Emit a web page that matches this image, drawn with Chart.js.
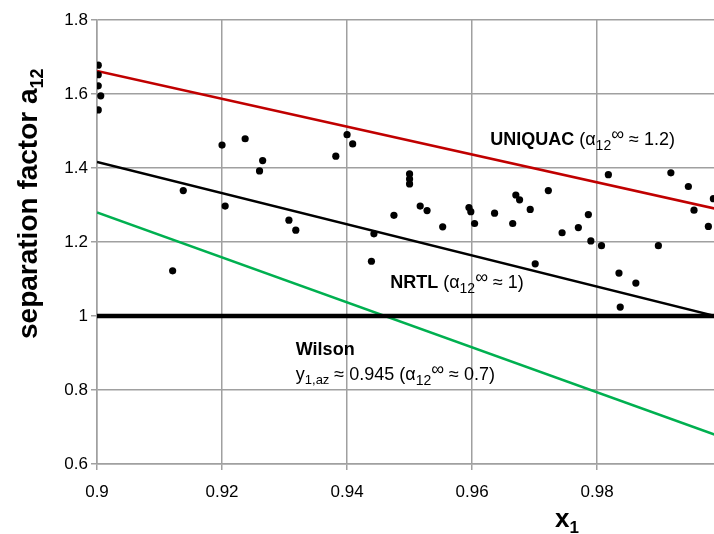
<!DOCTYPE html>
<html>
<head>
<meta charset="utf-8">
<script src="https://cdn.jsdelivr.net/npm/chart.js@4"></script>
<style>
  html, body { margin: 0; padding: 0; background: #fff; overflow: hidden; }
  canvas { display: block; }
</style>
</head>
<body>
<canvas id="sepChart" width="718" height="534"></canvas>
<script>
// measured separation factors (x1, a12)
const xObs = [0.9002, 0.9002, 0.9002, 0.9006, 0.9002, 0.9121, 0.9138, 0.9200, 0.9205, 0.9237,
              0.9260, 0.9265, 0.9307, 0.9318, 0.9382, 0.9400, 0.9409, 0.9439, 0.9443, 0.9475,
              0.9500, 0.9500, 0.9500, 0.9517, 0.9528, 0.9553, 0.9595, 0.9598, 0.9604, 0.9636,
              0.9665, 0.9670, 0.9676, 0.9693, 0.9701, 0.9722, 0.9744, 0.9770, 0.9786, 0.9790,
              0.9807, 0.9818, 0.9835, 0.9837, 0.9862, 0.9898, 0.9918, 0.9946, 0.9955, 0.9978,
              0.9986];
const yObs = [1.678, 1.652, 1.622, 1.595, 1.557, 1.122, 1.339, 1.462, 1.297, 1.479,
              1.392, 1.420, 1.259, 1.232, 1.432, 1.490, 1.465, 1.148, 1.222, 1.272,
              1.384, 1.370, 1.357, 1.297, 1.285, 1.241, 1.293, 1.282, 1.250, 1.278,
              1.250, 1.327, 1.314, 1.288, 1.141, 1.339, 1.225, 1.239, 1.274, 1.203,
              1.190, 1.382, 1.116, 1.024, 1.089, 1.190, 1.387, 1.350, 1.286, 1.242,
              1.317];

// model lines (end points at x1 = 0.9 and 1.0)
const xModel = [0.9, 1.0];
const yUniquac = [1.662, 1.286];
const yNrtl = [1.416, 0.995];
const yWilson = [1.280, 0.672];
const yAzeo = [1.0, 1.0];

// axis ticks
const xTickMin = 0.9, xTickMax = 0.9987, xStep = 0.02;
const yTickMin = 0.6, yTickMax = 1.8, yStep = 0.2;

const FONT = '"Liberation Sans", Arial, sans-serif';

function toPoints(xs, ys) {
    return xs.map((x, i) => ({ x: x, y: ys[i] }));
}

// text runs: [text, size, bold, dy]
function drawRuns(c, x, y, runs) {
    let cx = x;
    runs.forEach(r => {
        c.font = (r[2] ? 'bold ' : '') + r[1] + 'px ' + FONT;
        c.fillText(r[0], cx, y + (r[3] || 0));
        cx += c.measureText(r[0]).width;
    });
}

const alpha = ending => [[' (α', 18], ['12', 14, false, 5], ['∞', 18, false, -5], [ending, 18]];

// annotations, placed in data units
const notes = [
    { x: 0.9629, y: 1.462, runs: [['UNIQUAC', 18, true]].concat(alpha(' ≈ 1.2)')) },
    { x: 0.9469, y: 1.0757, runs: [['NRTL', 18, true]].concat(alpha(' ≈ 1)')) },
    { x: 0.9318, y: 0.8946, runs: [['Wilson', 18, true]] },
    { x: 0.9318, y: 0.827, runs: [['y', 18], ['1,az', 13, false, 4], [' ≈ 0.945', 18]].concat(alpha(' ≈ 0.7)')) },
];

const textPlugin = {
    id: 'textPlugin',
    afterDraw(chart) {
        const c = chart.ctx;
        const xs = chart.scales.x, ys = chart.scales.y;
        c.save();
        c.fillStyle = '#000';
        c.textAlign = 'left';
        c.textBaseline = 'alphabetic';
        notes.forEach(n => drawRuns(c, xs.getPixelForValue(n.x), ys.getPixelForValue(n.y), n.runs));

        // x axis title
        drawRuns(c, 555, 527, [['x', 26, true], ['1', 17, true, 6]]);

        // y axis title (rotated)
        c.translate(37, 339);
        c.rotate(-Math.PI / 2);
        drawRuns(c, 0, 0, [['separation factor a', 28, true], ['12', 18, true, 6]]);
        c.restore();
    }
};

const ctx = document.getElementById('sepChart').getContext('2d');

const lineDefaults = { showLine: true, pointRadius: 0, fill: false, borderWidth: 2.5 };

const chart = new Chart(ctx, {
    type: 'scatter',
    data: {
        datasets: [
            {
                label: 'experiment',
                data: toPoints(xObs, yObs),
                pointRadius: 3.6,
                pointBackgroundColor: '#000',
                pointBorderColor: '#000',
                pointBorderWidth: 0,
                order: 0,
            },
            Object.assign({ label: 'UNIQUAC', data: toPoints(xModel, yUniquac), borderColor: '#c00000', order: 2 }, lineDefaults),
            Object.assign({ label: 'NRTL', data: toPoints(xModel, yNrtl), borderColor: '#000', order: 2 }, lineDefaults),
            Object.assign({ label: 'Wilson', data: toPoints(xModel, yWilson), borderColor: '#00b050', order: 2 }, lineDefaults),
            Object.assign({}, lineDefaults, { label: 'azeotrope', data: toPoints(xModel, yAzeo), borderColor: '#000', borderWidth: 4.5, order: 1 }),
        ],
    },
    options: {
        responsive: false,
        animation: false,
        layout: { padding: { top: 20, left: 0, right: 0, bottom: 0 } },
        plugins: { legend: { display: false }, tooltip: { enabled: false } },
        scales: {
            x: {
                type: 'linear',
                min: xTickMin,
                max: xTickMax,
                afterFit: s => { s.height = 70; },
                grid: { color: '#a0a0a0', lineWidth: 1.5, tickLength: 6 },
                border: { color: '#a0a0a0', width: 1.5 },
                ticks: {
                    stepSize: xStep,
                    includeBounds: false,
                    padding: 12,
                    color: '#000',
                    font: { family: FONT, size: 17 },
                    maxRotation: 0,
                    callback: v => String(+v.toFixed(4)),
                },
            },
            y: {
                min: yTickMin,
                max: yTickMax,
                afterFit: s => { s.width = 97; },
                grid: { color: '#a0a0a0', lineWidth: 1.5, tickLength: 6 },
                border: { color: '#a0a0a0', width: 1.5 },
                ticks: {
                    stepSize: yStep,
                    padding: 3,
                    color: '#000',
                    font: { family: FONT, size: 17 },
                    callback: v => String(+v.toFixed(4)),
                },
            },
        },
    },
    plugins: [textPlugin],
});
</script>
</body>
</html>
